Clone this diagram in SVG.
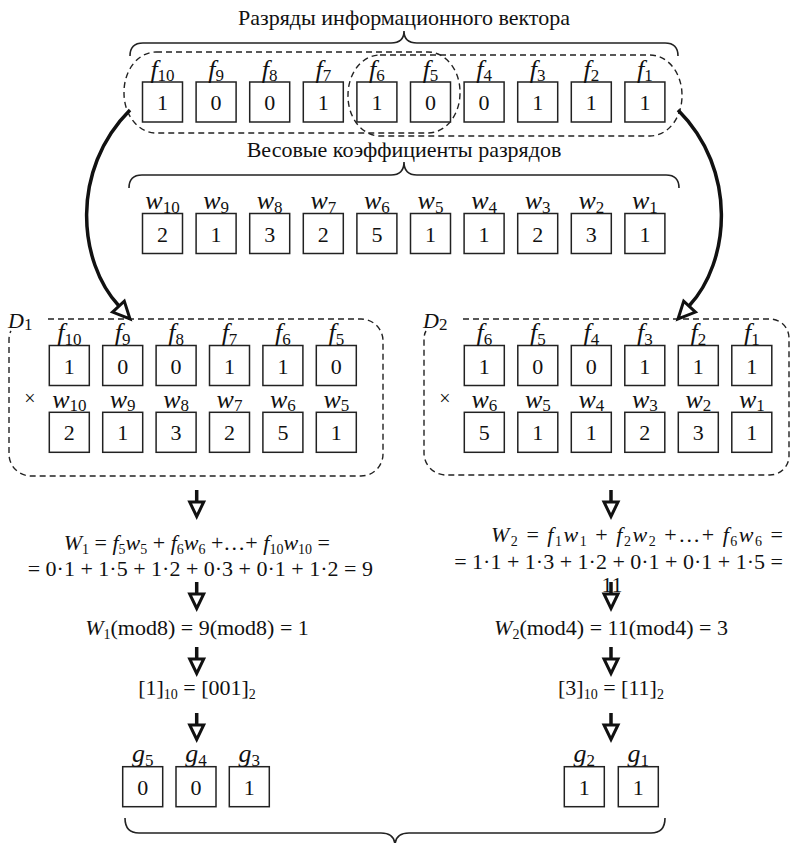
<svg xmlns="http://www.w3.org/2000/svg" xmlns:xlink="http://www.w3.org/1999/xlink" width="793" height="843" viewBox="0 0 793 843" font-family="'Liberation Serif','Times New Roman',serif">
<defs>
<style>
text{font-family:"Liberation Serif","Times New Roman",serif;fill:#111}
.ttl{font-size:22px;text-anchor:middle}
.bx rect{fill:#fff;stroke:#222;stroke-width:1.5}
.d{font-size:22px;text-anchor:middle}
.lb{font-size:26px;font-style:italic;text-anchor:middle}
.ls{font-size:17px;font-style:normal}
.fm{font-size:22px}
.i{font-style:italic}
.s{font-size:14px;font-style:normal}
.dash{fill:none;stroke:#222;stroke-width:1.4;stroke-dasharray:6 4}
.brace{fill:none;stroke:#222;stroke-width:1.6}
.shaft{fill:none;stroke:#111;stroke-width:3.5}
.head{fill:#fff;stroke:#111;stroke-width:3;stroke-linejoin:miter}
</style>
<g id="da"><path class="shaft" d="M0,0V12"/><path class="head" d="M-7,12H7L0,26.5Z"/></g>
</defs>
<rect width="793" height="843" fill="#fff"/>

<!-- titles and braces -->
<g id="title-info">
<text class="ttl" x="404" y="25">Разряды информационного вектора</text>
<path class="brace" d="M130,56 Q130,43 143,43 H391 Q404,43 404,31 Q404,43 417,43 H665 Q678,43 678,56"/>
</g>
<g id="title-weights">
<text class="ttl" x="404" y="156.5">Весовые коэффициенты разрядов</text>
<path class="brace" d="M129,188 Q129,175 142,175 H391 Q404,175 404,162 Q404,175 417,175 H666 Q679,175 679,188"/>
</g>
<g id="bottom-brace">
<path class="brace" d="M125,818 Q125,833 139,833 H381 Q395,833 395,846 Q395,833 409,833 H651 Q665,833 665,818"/>
</g>

<!-- dashed groupings on top row -->
<g id="group-left"><rect class="dash" x="124" y="52" width="336" height="81" rx="32" ry="40"/></g>
<g id="group-right"><rect class="dash" x="348" y="55" width="334" height="81" rx="32" ry="40"/></g>

<!-- top f row -->
<g id="f10" class="bx" transform="translate(142.5,82)"><rect width="40" height="40"/><text class="d" x="20" y="28">1</text><text class="lb" x="20" y="-4.5">f<tspan class="ls" dy="3.5">10</tspan></text></g>
<g id="f9" class="bx" transform="translate(196.1,82)"><rect width="40" height="40"/><text class="d" x="20" y="28">0</text><text class="lb" x="20" y="-4.5">f<tspan class="ls" dy="3.5">9</tspan></text></g>
<g id="f8" class="bx" transform="translate(249.7,82)"><rect width="40" height="40"/><text class="d" x="20" y="28">0</text><text class="lb" x="20" y="-4.5">f<tspan class="ls" dy="3.5">8</tspan></text></g>
<g id="f7" class="bx" transform="translate(303.3,82)"><rect width="40" height="40"/><text class="d" x="20" y="28">1</text><text class="lb" x="20" y="-4.5">f<tspan class="ls" dy="3.5">7</tspan></text></g>
<g id="f6" class="bx" transform="translate(356.9,82)"><rect width="40" height="40"/><text class="d" x="20" y="28">1</text><text class="lb" x="20" y="-4.5">f<tspan class="ls" dy="3.5">6</tspan></text></g>
<g id="f5" class="bx" transform="translate(410.5,82)"><rect width="40" height="40"/><text class="d" x="20" y="28">0</text><text class="lb" x="20" y="-4.5">f<tspan class="ls" dy="3.5">5</tspan></text></g>
<g id="f4" class="bx" transform="translate(464.1,82)"><rect width="40" height="40"/><text class="d" x="20" y="28">0</text><text class="lb" x="20" y="-4.5">f<tspan class="ls" dy="3.5">4</tspan></text></g>
<g id="f3" class="bx" transform="translate(517.7,82)"><rect width="40" height="40"/><text class="d" x="20" y="28">1</text><text class="lb" x="20" y="-4.5">f<tspan class="ls" dy="3.5">3</tspan></text></g>
<g id="f2" class="bx" transform="translate(571.3,82)"><rect width="40" height="40"/><text class="d" x="20" y="28">1</text><text class="lb" x="20" y="-4.5">f<tspan class="ls" dy="3.5">2</tspan></text></g>
<g id="f1" class="bx" transform="translate(624.9,82)"><rect width="40" height="40"/><text class="d" x="20" y="28">1</text><text class="lb" x="20" y="-4.5">f<tspan class="ls" dy="3.5">1</tspan></text></g>

<!-- top w row -->
<g id="w10" class="bx" transform="translate(142.5,213.5)"><rect width="40" height="40"/><text class="d" x="20" y="28">2</text><text class="lb" x="20" y="-4.5">w<tspan class="ls" dy="3.5">10</tspan></text></g>
<g id="w9" class="bx" transform="translate(196.1,213.5)"><rect width="40" height="40"/><text class="d" x="20" y="28">1</text><text class="lb" x="20" y="-4.5">w<tspan class="ls" dy="3.5">9</tspan></text></g>
<g id="w8" class="bx" transform="translate(249.7,213.5)"><rect width="40" height="40"/><text class="d" x="20" y="28">3</text><text class="lb" x="20" y="-4.5">w<tspan class="ls" dy="3.5">8</tspan></text></g>
<g id="w7" class="bx" transform="translate(303.3,213.5)"><rect width="40" height="40"/><text class="d" x="20" y="28">2</text><text class="lb" x="20" y="-4.5">w<tspan class="ls" dy="3.5">7</tspan></text></g>
<g id="w6" class="bx" transform="translate(356.9,213.5)"><rect width="40" height="40"/><text class="d" x="20" y="28">5</text><text class="lb" x="20" y="-4.5">w<tspan class="ls" dy="3.5">6</tspan></text></g>
<g id="w5" class="bx" transform="translate(410.5,213.5)"><rect width="40" height="40"/><text class="d" x="20" y="28">1</text><text class="lb" x="20" y="-4.5">w<tspan class="ls" dy="3.5">5</tspan></text></g>
<g id="w4" class="bx" transform="translate(464.1,213.5)"><rect width="40" height="40"/><text class="d" x="20" y="28">1</text><text class="lb" x="20" y="-4.5">w<tspan class="ls" dy="3.5">4</tspan></text></g>
<g id="w3" class="bx" transform="translate(517.7,213.5)"><rect width="40" height="40"/><text class="d" x="20" y="28">2</text><text class="lb" x="20" y="-4.5">w<tspan class="ls" dy="3.5">3</tspan></text></g>
<g id="w2" class="bx" transform="translate(571.3,213.5)"><rect width="40" height="40"/><text class="d" x="20" y="28">3</text><text class="lb" x="20" y="-4.5">w<tspan class="ls" dy="3.5">2</tspan></text></g>
<g id="w1" class="bx" transform="translate(624.9,213.5)"><rect width="40" height="40"/><text class="d" x="20" y="28">1</text><text class="lb" x="20" y="-4.5">w<tspan class="ls" dy="3.5">1</tspan></text></g>

<!-- D1 -->
<g id="D1">
<path class="dash" d="M48,319 H361 A22,22 0 0 1 383,341 V454 A22,22 0 0 1 361,476 H31 A22,22 0 0 1 9,454 V340 Q9,334 11,331"/>
<text x="8" y="328" style="font-size:22px;font-style:italic">D<tspan class="ls" dy="2">1</tspan></text>
<text x="30" y="405" style="font-size:20px" text-anchor="middle">×</text>
</g>
<g id="D1-f10" class="bx" transform="translate(49.3,345.5)"><rect width="40" height="40"/><text class="d" x="20" y="28">1</text><text class="lb" x="20" y="-4.5">f<tspan class="ls" dy="3.5">10</tspan></text></g>
<g id="D1-f9" class="bx" transform="translate(102.7,345.5)"><rect width="40" height="40"/><text class="d" x="20" y="28">0</text><text class="lb" x="20" y="-4.5">f<tspan class="ls" dy="3.5">9</tspan></text></g>
<g id="D1-f8" class="bx" transform="translate(156.1,345.5)"><rect width="40" height="40"/><text class="d" x="20" y="28">0</text><text class="lb" x="20" y="-4.5">f<tspan class="ls" dy="3.5">8</tspan></text></g>
<g id="D1-f7" class="bx" transform="translate(209.5,345.5)"><rect width="40" height="40"/><text class="d" x="20" y="28">1</text><text class="lb" x="20" y="-4.5">f<tspan class="ls" dy="3.5">7</tspan></text></g>
<g id="D1-f6" class="bx" transform="translate(262.9,345.5)"><rect width="40" height="40"/><text class="d" x="20" y="28">1</text><text class="lb" x="20" y="-4.5">f<tspan class="ls" dy="3.5">6</tspan></text></g>
<g id="D1-f5" class="bx" transform="translate(316.3,345.5)"><rect width="40" height="40"/><text class="d" x="20" y="28">0</text><text class="lb" x="20" y="-4.5">f<tspan class="ls" dy="3.5">5</tspan></text></g>
<g id="D1-w10" class="bx" transform="translate(49.3,412.3)"><rect width="40" height="40"/><text class="d" x="20" y="28">2</text><text class="lb" x="20" y="-4.5">w<tspan class="ls" dy="3.5">10</tspan></text></g>
<g id="D1-w9" class="bx" transform="translate(102.7,412.3)"><rect width="40" height="40"/><text class="d" x="20" y="28">1</text><text class="lb" x="20" y="-4.5">w<tspan class="ls" dy="3.5">9</tspan></text></g>
<g id="D1-w8" class="bx" transform="translate(156.1,412.3)"><rect width="40" height="40"/><text class="d" x="20" y="28">3</text><text class="lb" x="20" y="-4.5">w<tspan class="ls" dy="3.5">8</tspan></text></g>
<g id="D1-w7" class="bx" transform="translate(209.5,412.3)"><rect width="40" height="40"/><text class="d" x="20" y="28">2</text><text class="lb" x="20" y="-4.5">w<tspan class="ls" dy="3.5">7</tspan></text></g>
<g id="D1-w6" class="bx" transform="translate(262.9,412.3)"><rect width="40" height="40"/><text class="d" x="20" y="28">5</text><text class="lb" x="20" y="-4.5">w<tspan class="ls" dy="3.5">6</tspan></text></g>
<g id="D1-w5" class="bx" transform="translate(316.3,412.3)"><rect width="40" height="40"/><text class="d" x="20" y="28">1</text><text class="lb" x="20" y="-4.5">w<tspan class="ls" dy="3.5">5</tspan></text></g>

<!-- D2 -->
<g id="D2">
<path class="dash" d="M463,319 H770 A19,19 0 0 1 789,338 V456 A19,19 0 0 1 770,475 H446 A22,22 0 0 1 424,453 V340 Q424,334 426,331"/>
<text x="423" y="328" style="font-size:22px;font-style:italic">D<tspan class="ls" dy="2">2</tspan></text>
<text x="445" y="405" style="font-size:20px" text-anchor="middle">×</text>
</g>
<g id="D2-f6" class="bx" transform="translate(464.3,345.5)"><rect width="40" height="40"/><text class="d" x="20" y="28">1</text><text class="lb" x="20" y="-4.5">f<tspan class="ls" dy="3.5">6</tspan></text></g>
<g id="D2-f5" class="bx" transform="translate(517.8,345.5)"><rect width="40" height="40"/><text class="d" x="20" y="28">0</text><text class="lb" x="20" y="-4.5">f<tspan class="ls" dy="3.5">5</tspan></text></g>
<g id="D2-f4" class="bx" transform="translate(571.3,345.5)"><rect width="40" height="40"/><text class="d" x="20" y="28">0</text><text class="lb" x="20" y="-4.5">f<tspan class="ls" dy="3.5">4</tspan></text></g>
<g id="D2-f3" class="bx" transform="translate(624.8,345.5)"><rect width="40" height="40"/><text class="d" x="20" y="28">1</text><text class="lb" x="20" y="-4.5">f<tspan class="ls" dy="3.5">3</tspan></text></g>
<g id="D2-f2" class="bx" transform="translate(678.3,345.5)"><rect width="40" height="40"/><text class="d" x="20" y="28">1</text><text class="lb" x="20" y="-4.5">f<tspan class="ls" dy="3.5">2</tspan></text></g>
<g id="D2-f1" class="bx" transform="translate(731.8,345.5)"><rect width="40" height="40"/><text class="d" x="20" y="28">1</text><text class="lb" x="20" y="-4.5">f<tspan class="ls" dy="3.5">1</tspan></text></g>
<g id="D2-w6" class="bx" transform="translate(464.3,412.3)"><rect width="40" height="40"/><text class="d" x="20" y="28">5</text><text class="lb" x="20" y="-4.5">w<tspan class="ls" dy="3.5">6</tspan></text></g>
<g id="D2-w5" class="bx" transform="translate(517.8,412.3)"><rect width="40" height="40"/><text class="d" x="20" y="28">1</text><text class="lb" x="20" y="-4.5">w<tspan class="ls" dy="3.5">5</tspan></text></g>
<g id="D2-w4" class="bx" transform="translate(571.3,412.3)"><rect width="40" height="40"/><text class="d" x="20" y="28">1</text><text class="lb" x="20" y="-4.5">w<tspan class="ls" dy="3.5">4</tspan></text></g>
<g id="D2-w3" class="bx" transform="translate(624.8,412.3)"><rect width="40" height="40"/><text class="d" x="20" y="28">2</text><text class="lb" x="20" y="-4.5">w<tspan class="ls" dy="3.5">3</tspan></text></g>
<g id="D2-w2" class="bx" transform="translate(678.3,412.3)"><rect width="40" height="40"/><text class="d" x="20" y="28">3</text><text class="lb" x="20" y="-4.5">w<tspan class="ls" dy="3.5">2</tspan></text></g>
<g id="D2-w1" class="bx" transform="translate(731.8,412.3)"><rect width="40" height="40"/><text class="d" x="20" y="28">1</text><text class="lb" x="20" y="-4.5">w<tspan class="ls" dy="3.5">1</tspan></text></g>

<!-- left formulas -->
<g id="W1-sum">
<text class="fm" x="330" y="550" text-anchor="end"><tspan class="i">W</tspan><tspan class="s" dy="3.5">1</tspan><tspan dy="-3.5"> = </tspan><tspan class="i">f</tspan><tspan class="s" dy="3.5">5</tspan><tspan class="i" dy="-3.5">w</tspan><tspan class="s" dy="3.5">5</tspan><tspan dy="-3.5"> + </tspan><tspan class="i">f</tspan><tspan class="s" dy="3.5">6</tspan><tspan class="i" dy="-3.5">w</tspan><tspan class="s" dy="3.5">6</tspan><tspan dy="-3.5"> +…+ </tspan><tspan class="i">f</tspan><tspan class="s" dy="3.5">10</tspan><tspan class="i" dy="-3.5">w</tspan><tspan class="s" dy="3.5">10</tspan><tspan dy="-3.5"> =</tspan></text>
<text class="fm" x="373" y="576" text-anchor="end">= 0·1 + 1·5 + 1·2 + 0·3 + 0·1 + 1·2 = 9</text>
</g>
<g id="W1-mod"><text class="fm" x="197" y="635" text-anchor="middle"><tspan class="i">W</tspan><tspan class="s" dy="3.5">1</tspan><tspan dy="-3.5">(mod8) = 9(mod8) = 1</tspan></text></g>
<g id="W1-bin"><text class="fm" x="197" y="695" text-anchor="middle">[1]<tspan class="s" dy="3.5">10</tspan><tspan dy="-3.5"> = [001]</tspan><tspan class="s" dy="3.5">2</tspan></text></g>

<!-- right formulas -->
<g id="W2-sum">
<text class="fm" x="491" y="542" textLength="292" lengthAdjust="spacing"><tspan class="i">W</tspan><tspan class="s" dy="3.5">2</tspan><tspan dy="-3.5"> = </tspan><tspan class="i">f</tspan><tspan class="s" dy="3.5">1</tspan><tspan class="i" dy="-3.5">w</tspan><tspan class="s" dy="3.5">1</tspan><tspan dy="-3.5"> + </tspan><tspan class="i">f</tspan><tspan class="s" dy="3.5">2</tspan><tspan class="i" dy="-3.5">w</tspan><tspan class="s" dy="3.5">2</tspan><tspan dy="-3.5"> +…+ </tspan><tspan class="i">f</tspan><tspan class="s" dy="3.5">6</tspan><tspan class="i" dy="-3.5">w</tspan><tspan class="s" dy="3.5">6</tspan><tspan dy="-3.5"> =</tspan></text>
<text class="fm" x="783" y="569" text-anchor="end">= 1·1 + 1·3 + 1·2 + 0·1 + 0·1 + 1·5 =</text>
<text class="fm" x="612" y="592" text-anchor="middle">11</text>
</g>
<g id="W2-mod"><text class="fm" x="611" y="635" text-anchor="middle"><tspan class="i">W</tspan><tspan class="s" dy="3.5">2</tspan><tspan dy="-3.5">(mod4) = 11(mod4) = 3</tspan></text></g>
<g id="W2-bin"><text class="fm" x="611" y="695" text-anchor="middle">[3]<tspan class="s" dy="3.5">10</tspan><tspan dy="-3.5"> = [11]</tspan><tspan class="s" dy="3.5">2</tspan></text></g>

<!-- result bits -->
<g id="g5" class="bx" transform="translate(122.7,766.7)"><rect width="40" height="40"/><text class="d" x="20" y="28">0</text><text class="lb" x="20" y="-4.5">g<tspan class="ls" dy="3.5">5</tspan></text></g>
<g id="g4" class="bx" transform="translate(176,766.7)"><rect width="40" height="40"/><text class="d" x="20" y="28">0</text><text class="lb" x="20" y="-4.5">g<tspan class="ls" dy="3.5">4</tspan></text></g>
<g id="g3" class="bx" transform="translate(229.3,766.7)"><rect width="40" height="40"/><text class="d" x="20" y="28">1</text><text class="lb" x="20" y="-4.5">g<tspan class="ls" dy="3.5">3</tspan></text></g>
<g id="g2" class="bx" transform="translate(564.3,766.7)"><rect width="40" height="40"/><text class="d" x="20" y="28">1</text><text class="lb" x="20" y="-4.5">g<tspan class="ls" dy="3.5">2</tspan></text></g>
<g id="g1" class="bx" transform="translate(618.3,766.7)"><rect width="40" height="40"/><text class="d" x="20" y="28">1</text><text class="lb" x="20" y="-4.5">g<tspan class="ls" dy="3.5">1</tspan></text></g>

<!-- connectors -->
<g id="connectors">
<path class="shaft" d="M130,110 C70,170 78,262 119,306"/>
<path class="head" d="M112.5,312.1 L124.3,301.1 L130,319 Z"/>
<path class="shaft" d="M678,110 C738,170 730,262 689,306"/>
<path class="head" d="M695.5,312.1 L683.7,301.1 L678,319 Z"/>
<use xlink:href="#da" x="196.7" y="490"/>
<use xlink:href="#da" x="196.7" y="582"/>
<use xlink:href="#da" x="196.7" y="647"/>
<use xlink:href="#da" x="196.7" y="713"/>
<use xlink:href="#da" x="611" y="490"/>
<use xlink:href="#da" x="611" y="582"/>
<use xlink:href="#da" x="611" y="647"/>
<use xlink:href="#da" x="611" y="713"/>
</g>
</svg>
